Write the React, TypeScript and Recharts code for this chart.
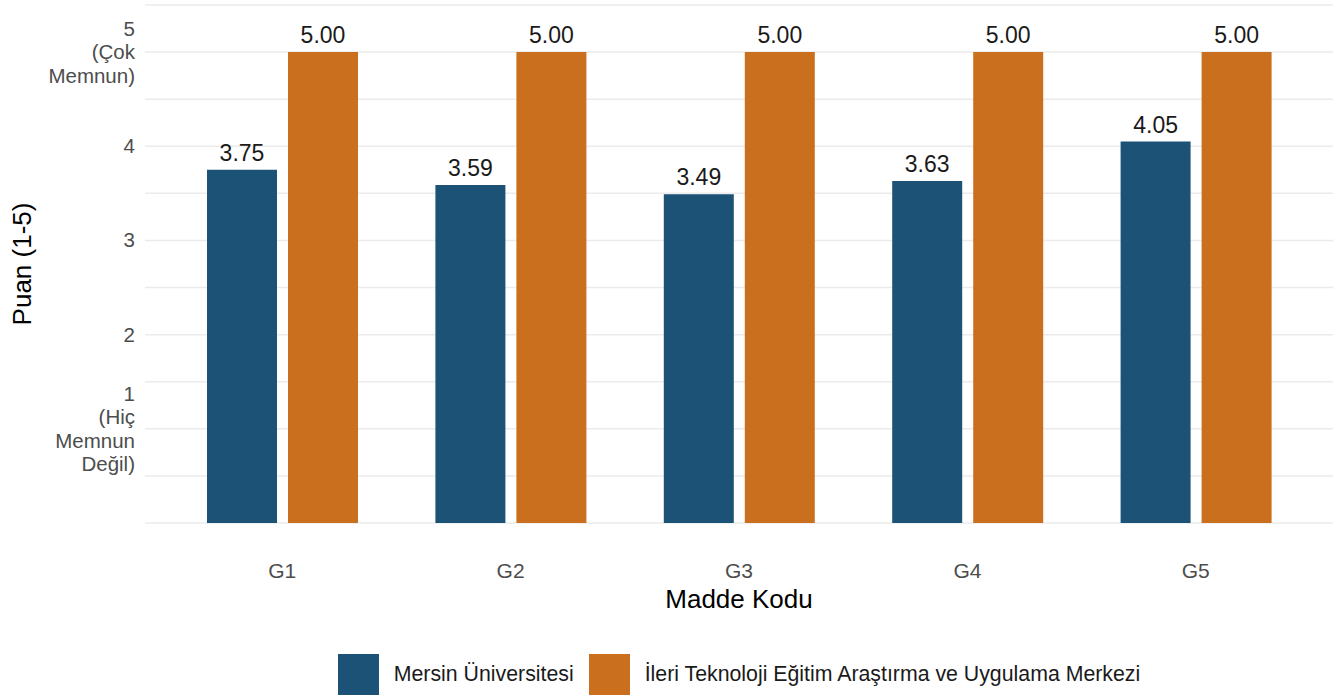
import React from 'react';
import { BarChart, Bar, XAxis, YAxis, CartesianGrid, LabelList, Legend } from 'recharts';

const categories = ['G1', 'G2', 'G3', 'G4', 'G5'];
const mersinValues = [3.75, 3.59, 3.49, 3.63, 4.05];
const ileriValues = [5.0, 5.0, 5.0, 5.0, 5.0];
const seriesNames = ['Mersin Üniversitesi', 'İleri Teknoloji Eğitim Araştırma ve Uygulama Merkezi'];
const seriesColors = ['#1B5276', '#CA6F1E'];
const gridTicks = [0, 0.5, 1, 1.5, 2, 2.5, 3, 3.5, 4, 4.5, 5, 5.5];
const yTickLabels: Record<string, string[]> = {
  '1': ['1', '(Hiç', 'Memnun', 'Değil)'],
  '2': ['2'],
  '3': ['3'],
  '4': ['4'],
  '5': ['5', '(Çok', 'Memnun)'],
};
const xTitle = 'Madde Kodu';
const yTitle = 'Puan (1-5)';

const data = categories.map((c, i) => ({ cat: c, mersin: mersinValues[i], ileri: ileriValues[i] }));

const FONT = '"Liberation Sans", Arial, Helvetica, sans-serif';

const YTick = (props: any) => {
  const { x, y, payload } = props;
  const lines = yTickLabels[String(payload.value)];
  if (!lines) return <g />;
  const lh = 23.5;
  const first = -((lines.length - 1) / 2) * lh + 7;
  return (
    <text x={x} y={y} textAnchor="end" fill="#4D4D4D" fontSize={20.5} fontFamily={FONT}>
      {lines.map((l, i) => (
        <tspan key={i} x={x} dy={i === 0 ? first : lh}>
          {l}
        </tspan>
      ))}
    </text>
  );
};

const LegendContent = () => (
  <div
    style={{
      display: 'flex',
      justifyContent: 'center',
      alignItems: 'center',
      height: 41,
      fontFamily: FONT,
      fontSize: 21.3,
      color: '#1a1a1a',
    }}
  >
    {seriesNames.map((n, i) => (
      <div key={n} style={{ display: 'flex', alignItems: 'center', marginLeft: i === 0 ? 0 : 15 }}>
        <div style={{ width: 41, height: 41, background: seriesColors[i] }} />
        <span style={{ marginLeft: 15, whiteSpace: 'nowrap' }}>{n}</span>
      </div>
    ))}
  </div>
);

export default function App() {
  return (
    <div style={{ position: 'absolute', left: 0, top: 0, width: 1341, height: 695, fontFamily: FONT, background: '#fff' }}>
      <BarChart
        width={1341}
        height={695}
        data={data}
        margin={{ top: 5, right: 8, left: 0, bottom: 0 }}
        barSize={70}
        barGap={11}
      >
        <CartesianGrid vertical={false} stroke="#EBEBEB" strokeWidth={1.5} />
        <XAxis
          dataKey="cat"
          height={131}
          tickLine={false}
          axisLine={false}
          tickMargin={34}
          padding={{ left: 23, right: 23 }}
          tick={{ fill: '#4D4D4D', fontSize: 21, fontFamily: FONT }}
          label={{ value: xTitle, position: 'insideBottom', offset: 46, fill: '#000', fontSize: 26, fontFamily: FONT }}
        />
        <YAxis
          type="number"
          domain={[0, 5.5]}
          ticks={gridTicks}
          interval={0}
          width={145}
          tickLine={false}
          axisLine={false}
          tickMargin={4}
          tick={<YTick />}
          label={{ value: yTitle, angle: -90, position: 'insideLeft', offset: 22, fill: '#000', fontSize: 26, fontFamily: FONT, style: { textAnchor: 'middle' } }}
        />
        <Legend
          verticalAlign="bottom"
          height={41}
          wrapperStyle={{ left: 145, width: 1188, bottom: 0 }}
          content={<LegendContent />}
        />
        <Bar dataKey="mersin" name={seriesNames[0]} fill={seriesColors[0]} isAnimationActive={false}>
          <LabelList dataKey="mersin" position="top" offset={9} formatter={(v: any) => Number(v).toFixed(2)} fill="#1a1a1a" fontSize={23} fontFamily={FONT} />
        </Bar>
        <Bar dataKey="ileri" name={seriesNames[1]} fill={seriesColors[1]} isAnimationActive={false}>
          <LabelList dataKey="ileri" position="top" offset={9} formatter={(v: any) => Number(v).toFixed(2)} fill="#1a1a1a" fontSize={23} fontFamily={FONT} />
        </Bar>
      </BarChart>
    </div>
  );
}
